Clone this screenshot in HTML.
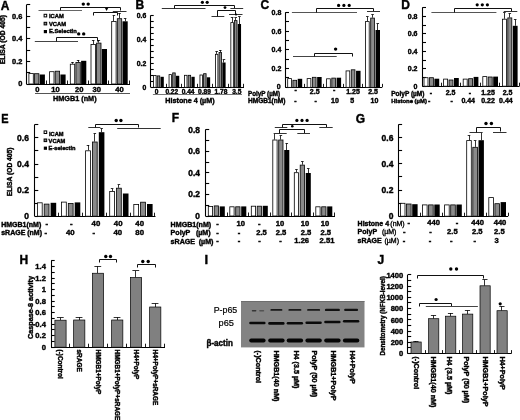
<!DOCTYPE html>
<html><head><meta charset="utf-8"><style>
html,body{margin:0;padding:0;background:#fff;}
svg{display:block;font-family:"Liberation Sans", sans-serif;will-change:transform;}
</style></head><body>
<svg width="520" height="420" viewBox="0 0 520 420">
<rect width="520" height="420" fill="#fff"/>
<text x="0.8" y="9.6" font-size="12" font-weight="bold" text-anchor="start" fill="#000" stroke="#000" stroke-width="0.4">A</text>
<text x="5" y="64.2" font-size="6.6" font-weight="bold" text-anchor="start" fill="#000" stroke="#000" stroke-width="0.4" transform="rotate(-90 5 64.2)" textLength="49.2" lengthAdjust="spacingAndGlyphs">ELISA (OD 405)</text>
<line x1="26.5" y1="4.6" x2="26.5" y2="84" stroke="#000" stroke-width="1.1"/>
<line x1="26.6" y1="84.5" x2="30.2" y2="84.5" stroke="#000" stroke-width="1.1"/>
<line x1="26.6" y1="72.5" x2="30.2" y2="72.5" stroke="#000" stroke-width="1.1"/>
<line x1="26.6" y1="61.5" x2="30.2" y2="61.5" stroke="#000" stroke-width="1.1"/>
<line x1="26.6" y1="50.5" x2="30.2" y2="50.5" stroke="#000" stroke-width="1.1"/>
<line x1="26.6" y1="38.5" x2="30.2" y2="38.5" stroke="#000" stroke-width="1.1"/>
<line x1="26.6" y1="27.5" x2="30.2" y2="27.5" stroke="#000" stroke-width="1.1"/>
<line x1="26.6" y1="16.5" x2="30.2" y2="16.5" stroke="#000" stroke-width="1.1"/>
<line x1="26.6" y1="4.5" x2="30.2" y2="4.5" stroke="#000" stroke-width="1.1"/>
<text x="22.4" y="85.66" font-size="7.4" font-weight="bold" text-anchor="end" fill="#000" stroke="#000" stroke-width="0.4">0</text>
<text x="22.4" y="64.06" font-size="7.4" font-weight="bold" text-anchor="end" fill="#000" stroke="#000" stroke-width="0.4">0.2</text>
<text x="22.4" y="41.46" font-size="7.4" font-weight="bold" text-anchor="end" fill="#000" stroke="#000" stroke-width="0.4">0.4</text>
<text x="22.4" y="18.86" font-size="7.4" font-weight="bold" text-anchor="end" fill="#000" stroke="#000" stroke-width="0.4">0.6</text>
<line x1="26.6" y1="84.5" x2="130" y2="84.5" stroke="#000" stroke-width="1.1"/>
<rect x="28.9" y="73.4" width="4.4" height="10.6" fill="#fff" stroke="#000" stroke-width="0.8"/>
<rect x="34.5" y="73.7" width="4.4" height="10.3" fill="#8a8a8a" stroke="#000" stroke-width="0.8"/>
<rect x="39.7" y="74.5" width="5.2" height="9.5" fill="#000"/>
<rect x="49.6" y="71.7" width="4.4" height="12.3" fill="#fff" stroke="#000" stroke-width="0.8"/>
<rect x="55.2" y="71.2" width="4.4" height="12.8" fill="#8a8a8a" stroke="#000" stroke-width="0.8"/>
<rect x="60.4" y="74.5" width="5.2" height="9.5" fill="#000"/>
<line x1="72.5" y1="62" x2="72.5" y2="63.8" stroke="#000" stroke-width="0.8"/>
<line x1="71.2" y1="62.5" x2="73.8" y2="62.5" stroke="#000" stroke-width="0.8"/>
<rect x="70.3" y="64.2" width="4.4" height="19.8" fill="#fff" stroke="#000" stroke-width="0.8"/>
<line x1="78.5" y1="60" x2="78.5" y2="62" stroke="#000" stroke-width="0.8"/>
<line x1="76.8" y1="60.5" x2="79.4" y2="60.5" stroke="#000" stroke-width="0.8"/>
<rect x="75.9" y="62.4" width="4.4" height="21.6" fill="#8a8a8a" stroke="#000" stroke-width="0.8"/>
<rect x="81.1" y="60.8" width="5.2" height="23.2" fill="#000"/>
<line x1="93.5" y1="40.3" x2="93.5" y2="44" stroke="#000" stroke-width="0.8"/>
<line x1="91.9" y1="40.5" x2="94.5" y2="40.5" stroke="#000" stroke-width="0.8"/>
<rect x="91" y="44.4" width="4.4" height="39.6" fill="#fff" stroke="#000" stroke-width="0.8"/>
<line x1="98.5" y1="40" x2="98.5" y2="42.7" stroke="#000" stroke-width="0.8"/>
<line x1="97.5" y1="40.5" x2="100.1" y2="40.5" stroke="#000" stroke-width="0.8"/>
<rect x="96.6" y="43.1" width="4.4" height="40.9" fill="#8a8a8a" stroke="#000" stroke-width="0.8"/>
<rect x="101.8" y="49" width="5.2" height="35" fill="#000"/>
<line x1="113.5" y1="15.5" x2="113.5" y2="21" stroke="#000" stroke-width="0.8"/>
<line x1="112.6" y1="15.5" x2="115.2" y2="15.5" stroke="#000" stroke-width="0.8"/>
<rect x="111.7" y="21.4" width="4.4" height="62.6" fill="#fff" stroke="#000" stroke-width="0.8"/>
<line x1="119.5" y1="13" x2="119.5" y2="18.3" stroke="#000" stroke-width="0.8"/>
<line x1="118.2" y1="13.5" x2="120.8" y2="13.5" stroke="#000" stroke-width="0.8"/>
<rect x="117.3" y="18.7" width="4.4" height="65.3" fill="#8a8a8a" stroke="#000" stroke-width="0.8"/>
<line x1="125.5" y1="18.6" x2="125.5" y2="21.3" stroke="#000" stroke-width="0.8"/>
<line x1="123.8" y1="18.5" x2="126.4" y2="18.5" stroke="#000" stroke-width="0.8"/>
<rect x="122.5" y="21.3" width="5.2" height="62.7" fill="#000"/>
<line x1="46.5" y1="80.5" x2="46.5" y2="84" stroke="#000" stroke-width="0.9"/>
<line x1="67.5" y1="80.5" x2="67.5" y2="84" stroke="#000" stroke-width="0.9"/>
<line x1="88.5" y1="80.5" x2="88.5" y2="84" stroke="#000" stroke-width="0.9"/>
<line x1="108.5" y1="80.5" x2="108.5" y2="84" stroke="#000" stroke-width="0.9"/>
<line x1="129.5" y1="80.5" x2="129.5" y2="84" stroke="#000" stroke-width="0.9"/>
<text x="37.3" y="91.9" font-size="7.6" font-weight="bold" text-anchor="middle" fill="#000" stroke="#000" stroke-width="0.4">0</text>
<text x="55.5" y="91.9" font-size="7.6" font-weight="bold" text-anchor="middle" fill="#000" stroke="#000" stroke-width="0.4">10</text>
<text x="79.3" y="91.9" font-size="7.6" font-weight="bold" text-anchor="middle" fill="#000" stroke="#000" stroke-width="0.4">20</text>
<text x="96.8" y="91.9" font-size="7.6" font-weight="bold" text-anchor="middle" fill="#000" stroke="#000" stroke-width="0.4">30</text>
<text x="119.6" y="91.9" font-size="7.6" font-weight="bold" text-anchor="middle" fill="#000" stroke="#000" stroke-width="0.4">40</text>
<line x1="35" y1="93.5" x2="130" y2="93.5" stroke="#555" stroke-width="1"/>
<text x="53" y="101.2" font-size="7.6" font-weight="bold" text-anchor="start" fill="#000" stroke="#000" stroke-width="0.4" textLength="43.6" lengthAdjust="spacingAndGlyphs">HMGB1 (nM)</text>
<rect x="44.1" y="14.3" width="2.6" height="2.6" fill="#fff" stroke="#000" stroke-width="1"/>
<text x="49" y="18.2" font-size="5.8" font-weight="bold" text-anchor="start" fill="#000" stroke="#000" stroke-width="0.4">ICAM</text>
<rect x="44.1" y="22.3" width="2.6" height="2.6" fill="#8a8a8a" stroke="#000" stroke-width="1"/>
<text x="49" y="25.6" font-size="5.8" font-weight="bold" text-anchor="start" fill="#000" stroke="#000" stroke-width="0.4">VCAM</text>
<rect x="43.8" y="30" width="3.2" height="3.2" fill="#000"/>
<text x="49" y="32.9" font-size="5.8" font-weight="bold" text-anchor="start" fill="#000" stroke="#000" stroke-width="0.4">E.Selectin</text>
<line x1="38.5" y1="10.5" x2="82" y2="10.5" stroke="#666" stroke-width="1.2"/>
<polyline points="60.5,10.5 60.5,7.5 120.5,7.5 120.5,10.5" fill="none" stroke="#111" stroke-width="1"/>
<line x1="112.8" y1="11.5" x2="126.5" y2="11.5" stroke="#333" stroke-width="1"/>
<circle cx="83.3" cy="4.1" r="1.7" fill="#000"/>
<circle cx="88.2" cy="4.1" r="1.7" fill="#000"/>
<polygon points="104.8,7.8 108.4,7.8 106.6,11" fill="#000"/>
<polyline points="93.5,15.5 93.5,12.5 117.5,12.5 117.5,15.5" fill="none" stroke="#111" stroke-width="1"/>
<circle cx="78.7" cy="33.9" r="1.7" fill="#000"/>
<circle cx="83.7" cy="33.9" r="1.7" fill="#000"/>
<line x1="34.8" y1="41.5" x2="78" y2="41.5" stroke="#444" stroke-width="1.1"/>
<polyline points="56.5,41.5 56.5,37.5 97.5,37.5 97.5,41.5" fill="none" stroke="#111" stroke-width="1"/>
<text x="135.6" y="8.8" font-size="12" font-weight="bold" text-anchor="start" fill="#000" stroke="#000" stroke-width="0.4">B</text>
<line x1="150.5" y1="15.3" x2="150.5" y2="87.3" stroke="#000" stroke-width="1.1"/>
<line x1="150.8" y1="87.5" x2="153.7" y2="87.5" stroke="#000" stroke-width="1.1"/>
<line x1="150.8" y1="81.5" x2="153.7" y2="81.5" stroke="#000" stroke-width="1.1"/>
<line x1="150.8" y1="75.5" x2="153.7" y2="75.5" stroke="#000" stroke-width="1.1"/>
<line x1="150.8" y1="69.5" x2="153.7" y2="69.5" stroke="#000" stroke-width="1.1"/>
<line x1="150.8" y1="63.5" x2="153.7" y2="63.5" stroke="#000" stroke-width="1.1"/>
<line x1="150.8" y1="57.5" x2="153.7" y2="57.5" stroke="#000" stroke-width="1.1"/>
<line x1="150.8" y1="51.5" x2="153.7" y2="51.5" stroke="#000" stroke-width="1.1"/>
<line x1="150.8" y1="45.5" x2="153.7" y2="45.5" stroke="#000" stroke-width="1.1"/>
<line x1="150.8" y1="39.5" x2="153.7" y2="39.5" stroke="#000" stroke-width="1.1"/>
<line x1="150.8" y1="33.5" x2="153.7" y2="33.5" stroke="#000" stroke-width="1.1"/>
<line x1="150.8" y1="27.5" x2="153.7" y2="27.5" stroke="#000" stroke-width="1.1"/>
<line x1="150.8" y1="21.5" x2="153.7" y2="21.5" stroke="#000" stroke-width="1.1"/>
<line x1="150.8" y1="15.5" x2="153.7" y2="15.5" stroke="#000" stroke-width="1.1"/>
<text x="146.2" y="89.75" font-size="6.8" font-weight="bold" text-anchor="end" fill="#000" stroke="#000" stroke-width="0.4">0</text>
<text x="146.2" y="65.85" font-size="6.8" font-weight="bold" text-anchor="end" fill="#000" stroke="#000" stroke-width="0.4">0.2</text>
<text x="146.2" y="41.95" font-size="6.8" font-weight="bold" text-anchor="end" fill="#000" stroke="#000" stroke-width="0.4">0.4</text>
<text x="146.2" y="18.05" font-size="6.8" font-weight="bold" text-anchor="end" fill="#000" stroke="#000" stroke-width="0.4">0.6</text>
<line x1="150.8" y1="87.5" x2="244" y2="87.5" stroke="#000" stroke-width="1.1"/>
<rect x="153.6" y="75.5" width="2.5" height="11.8" fill="#fff" stroke="#000" stroke-width="0.8"/>
<rect x="157.25" y="75.9" width="2.5" height="11.4" fill="#8a8a8a" stroke="#000" stroke-width="0.8"/>
<rect x="160.5" y="76.8" width="3.3" height="10.5" fill="#000"/>
<rect x="169.05" y="74.6" width="2.5" height="12.7" fill="#fff" stroke="#000" stroke-width="0.8"/>
<rect x="172.7" y="72.9" width="2.5" height="14.4" fill="#8a8a8a" stroke="#000" stroke-width="0.8"/>
<rect x="175.95" y="75.8" width="3.3" height="11.5" fill="#000"/>
<rect x="184.5" y="75.3" width="2.5" height="12" fill="#fff" stroke="#000" stroke-width="0.8"/>
<rect x="188.15" y="75.3" width="2.5" height="12" fill="#8a8a8a" stroke="#000" stroke-width="0.8"/>
<rect x="191.4" y="76.8" width="3.3" height="10.5" fill="#000"/>
<rect x="199.95" y="75" width="2.5" height="12.3" fill="#fff" stroke="#000" stroke-width="0.8"/>
<rect x="203.6" y="73.7" width="2.5" height="13.6" fill="#8a8a8a" stroke="#000" stroke-width="0.8"/>
<rect x="206.85" y="77.3" width="3.3" height="10" fill="#000"/>
<line x1="216.5" y1="51.3" x2="216.5" y2="53.9" stroke="#000" stroke-width="0.8"/>
<line x1="215.35" y1="51.5" x2="217.95" y2="51.5" stroke="#000" stroke-width="0.8"/>
<rect x="215.4" y="54.3" width="2.5" height="33" fill="#fff" stroke="#000" stroke-width="0.8"/>
<line x1="220.5" y1="50" x2="220.5" y2="52" stroke="#000" stroke-width="0.8"/>
<line x1="219" y1="50.5" x2="221.6" y2="50.5" stroke="#000" stroke-width="0.8"/>
<rect x="219.05" y="52.4" width="2.5" height="34.9" fill="#8a8a8a" stroke="#000" stroke-width="0.8"/>
<line x1="223.5" y1="59.8" x2="223.5" y2="62.5" stroke="#000" stroke-width="0.8"/>
<line x1="222.65" y1="59.5" x2="225.25" y2="59.5" stroke="#000" stroke-width="0.8"/>
<rect x="222.3" y="62.5" width="3.3" height="24.8" fill="#000"/>
<line x1="232.5" y1="17.5" x2="232.5" y2="22.2" stroke="#000" stroke-width="0.8"/>
<line x1="230.8" y1="17.5" x2="233.4" y2="17.5" stroke="#000" stroke-width="0.8"/>
<rect x="230.85" y="22.6" width="2.5" height="64.7" fill="#fff" stroke="#000" stroke-width="0.8"/>
<line x1="235.5" y1="17.8" x2="235.5" y2="20.2" stroke="#000" stroke-width="0.8"/>
<line x1="234.45" y1="17.5" x2="237.05" y2="17.5" stroke="#000" stroke-width="0.8"/>
<rect x="234.5" y="20.6" width="2.5" height="66.7" fill="#8a8a8a" stroke="#000" stroke-width="0.8"/>
<line x1="239.5" y1="16.8" x2="239.5" y2="24" stroke="#000" stroke-width="0.8"/>
<line x1="238.1" y1="16.5" x2="240.7" y2="16.5" stroke="#000" stroke-width="0.8"/>
<rect x="237.75" y="24" width="3.3" height="63.3" fill="#000"/>
<line x1="166.5" y1="83.8" x2="166.5" y2="87.3" stroke="#000" stroke-width="0.9"/>
<line x1="181.5" y1="83.8" x2="181.5" y2="87.3" stroke="#000" stroke-width="0.9"/>
<line x1="197.5" y1="83.8" x2="197.5" y2="87.3" stroke="#000" stroke-width="0.9"/>
<line x1="212.5" y1="83.8" x2="212.5" y2="87.3" stroke="#000" stroke-width="0.9"/>
<line x1="228.5" y1="83.8" x2="228.5" y2="87.3" stroke="#000" stroke-width="0.9"/>
<line x1="243.5" y1="83.8" x2="243.5" y2="87.3" stroke="#000" stroke-width="0.9"/>
<text x="156.5" y="94" font-size="6.6" font-weight="bold" text-anchor="middle" fill="#000" stroke="#000" stroke-width="0.4">0</text>
<text x="171.8" y="94" font-size="6.6" font-weight="bold" text-anchor="middle" fill="#000" stroke="#000" stroke-width="0.4">0.22</text>
<text x="188.1" y="94" font-size="6.6" font-weight="bold" text-anchor="middle" fill="#000" stroke="#000" stroke-width="0.4">0.44</text>
<text x="204.4" y="94" font-size="6.6" font-weight="bold" text-anchor="middle" fill="#000" stroke="#000" stroke-width="0.4">0.89</text>
<text x="220.9" y="94" font-size="6.6" font-weight="bold" text-anchor="middle" fill="#000" stroke="#000" stroke-width="0.4">1.78</text>
<text x="236.8" y="94" font-size="6.6" font-weight="bold" text-anchor="middle" fill="#000" stroke="#000" stroke-width="0.4">3.5</text>
<line x1="152.9" y1="94.5" x2="242" y2="94.5" stroke="#777" stroke-width="1"/>
<text x="165.3" y="102.8" font-size="7.2" font-weight="bold" text-anchor="start" fill="#000" stroke="#000" stroke-width="0.4">Histone 4 (µM)</text>
<line x1="161.8" y1="8.5" x2="205.5" y2="8.5" stroke="#333" stroke-width="1.1"/>
<polyline points="174.5,8.5 174.5,5.5 234.5,5.5 234.5,8.5" fill="none" stroke="#111" stroke-width="1"/>
<line x1="230.4" y1="8.5" x2="243.2" y2="8.5" stroke="#333" stroke-width="1"/>
<circle cx="202.4" cy="2.3" r="1.6" fill="#000"/>
<circle cx="207.2" cy="2.3" r="1.6" fill="#000"/>
<circle cx="225" cy="7.6" r="1.4" fill="#000"/>
<line x1="211.5" y1="16.5" x2="224.3" y2="16.5" stroke="#333" stroke-width="1"/>
<polyline points="217.5,16.5 217.5,10.5 235.5,10.5 235.5,14.5" fill="none" stroke="#111" stroke-width="1"/>
<line x1="229" y1="14.5" x2="242.5" y2="14.5" stroke="#333" stroke-width="1"/>
<circle cx="236" cy="14.5" r="1.1" fill="#000"/>
<text x="260.6" y="9.2" font-size="12" font-weight="bold" text-anchor="start" fill="#000" stroke="#000" stroke-width="0.4">C</text>
<line x1="285.5" y1="12.3" x2="285.5" y2="87.35" stroke="#000" stroke-width="1.1"/>
<line x1="285.4" y1="87.5" x2="289" y2="87.5" stroke="#000" stroke-width="1.1"/>
<line x1="285.4" y1="77.5" x2="289" y2="77.5" stroke="#000" stroke-width="1.1"/>
<line x1="285.4" y1="68.5" x2="289" y2="68.5" stroke="#000" stroke-width="1.1"/>
<line x1="285.4" y1="59.5" x2="289" y2="59.5" stroke="#000" stroke-width="1.1"/>
<line x1="285.4" y1="49.5" x2="289" y2="49.5" stroke="#000" stroke-width="1.1"/>
<line x1="285.4" y1="40.5" x2="289" y2="40.5" stroke="#000" stroke-width="1.1"/>
<line x1="285.4" y1="31.5" x2="289" y2="31.5" stroke="#000" stroke-width="1.1"/>
<line x1="285.4" y1="21.5" x2="289" y2="21.5" stroke="#000" stroke-width="1.1"/>
<line x1="285.4" y1="12.5" x2="289" y2="12.5" stroke="#000" stroke-width="1.1"/>
<text x="280.7" y="89.07" font-size="7" font-weight="bold" text-anchor="end" fill="#000" stroke="#000" stroke-width="0.4">0</text>
<text x="281.3" y="71.15" font-size="7" font-weight="bold" text-anchor="end" fill="#000" stroke="#000" stroke-width="0.4">0.2</text>
<text x="281.3" y="52.43" font-size="7" font-weight="bold" text-anchor="end" fill="#000" stroke="#000" stroke-width="0.4">0.4</text>
<text x="281.3" y="33.71" font-size="7" font-weight="bold" text-anchor="end" fill="#000" stroke="#000" stroke-width="0.4">0.6</text>
<text x="281.3" y="14.99" font-size="7" font-weight="bold" text-anchor="end" fill="#000" stroke="#000" stroke-width="0.4">0.8</text>
<line x1="285.4" y1="87.5" x2="382" y2="87.5" stroke="#000" stroke-width="1.1"/>
<rect x="287.7" y="78.6" width="3.7" height="8.75" fill="#fff" stroke="#000" stroke-width="0.8"/>
<rect x="292.9" y="80.3" width="3.7" height="7.05" fill="#8a8a8a" stroke="#000" stroke-width="0.8"/>
<rect x="297.7" y="78.8" width="4.5" height="8.55" fill="#000"/>
<rect x="307.15" y="78.6" width="3.7" height="8.75" fill="#fff" stroke="#000" stroke-width="0.8"/>
<rect x="312.35" y="77.3" width="3.7" height="10.05" fill="#8a8a8a" stroke="#000" stroke-width="0.8"/>
<rect x="317.15" y="77" width="4.5" height="10.35" fill="#000"/>
<rect x="326.6" y="78.8" width="3.7" height="8.55" fill="#fff" stroke="#000" stroke-width="0.8"/>
<rect x="331.8" y="78.1" width="3.7" height="9.25" fill="#8a8a8a" stroke="#000" stroke-width="0.8"/>
<rect x="336.6" y="77.7" width="4.5" height="9.65" fill="#000"/>
<rect x="346.05" y="70.9" width="3.7" height="16.45" fill="#fff" stroke="#000" stroke-width="0.8"/>
<rect x="351.25" y="69.8" width="3.7" height="17.55" fill="#8a8a8a" stroke="#000" stroke-width="0.8"/>
<rect x="356.05" y="70.8" width="4.5" height="16.55" fill="#000"/>
<line x1="367.5" y1="16.6" x2="367.5" y2="21.2" stroke="#000" stroke-width="0.8"/>
<line x1="366.05" y1="16.5" x2="368.65" y2="16.5" stroke="#000" stroke-width="0.8"/>
<rect x="365.5" y="21.6" width="3.7" height="65.75" fill="#fff" stroke="#000" stroke-width="0.8"/>
<line x1="372.5" y1="14.6" x2="372.5" y2="17.7" stroke="#000" stroke-width="0.8"/>
<line x1="371.25" y1="14.5" x2="373.85" y2="14.5" stroke="#000" stroke-width="0.8"/>
<rect x="370.7" y="18.1" width="3.7" height="69.25" fill="#8a8a8a" stroke="#000" stroke-width="0.8"/>
<line x1="377.5" y1="23.8" x2="377.5" y2="30" stroke="#000" stroke-width="0.8"/>
<line x1="376.45" y1="23.5" x2="379.05" y2="23.5" stroke="#000" stroke-width="0.8"/>
<rect x="375.5" y="30" width="4.5" height="57.35" fill="#000"/>
<line x1="304.5" y1="83.85" x2="304.5" y2="87.35" stroke="#000" stroke-width="0.9"/>
<line x1="323.5" y1="83.85" x2="323.5" y2="87.35" stroke="#000" stroke-width="0.9"/>
<line x1="343.5" y1="83.85" x2="343.5" y2="87.35" stroke="#000" stroke-width="0.9"/>
<line x1="362.5" y1="83.85" x2="362.5" y2="87.35" stroke="#000" stroke-width="0.9"/>
<line x1="382.5" y1="83.85" x2="382.5" y2="87.35" stroke="#000" stroke-width="0.9"/>
<text x="295.6" y="92.2" font-size="7" font-weight="bold" text-anchor="middle" fill="#000" stroke="#000" stroke-width="0.4">-</text>
<text x="314.7" y="94.4" font-size="7" font-weight="bold" text-anchor="middle" fill="#000" stroke="#000" stroke-width="0.4">2.5</text>
<text x="334.2" y="92.2" font-size="7" font-weight="bold" text-anchor="middle" fill="#000" stroke="#000" stroke-width="0.4">-</text>
<text x="353" y="94.4" font-size="7" font-weight="bold" text-anchor="middle" fill="#000" stroke="#000" stroke-width="0.4">1.25</text>
<text x="373.1" y="94.4" font-size="7" font-weight="bold" text-anchor="middle" fill="#000" stroke="#000" stroke-width="0.4">2.5</text>
<text x="295.3" y="102.6" font-size="7" font-weight="bold" text-anchor="middle" fill="#000" stroke="#000" stroke-width="0.4">-</text>
<text x="315.6" y="102.6" font-size="7" font-weight="bold" text-anchor="middle" fill="#000" stroke="#000" stroke-width="0.4">-</text>
<text x="335" y="102.6" font-size="7" font-weight="bold" text-anchor="middle" fill="#000" stroke="#000" stroke-width="0.4">10</text>
<text x="352.3" y="102.6" font-size="7" font-weight="bold" text-anchor="middle" fill="#000" stroke="#000" stroke-width="0.4">5</text>
<text x="374.4" y="102.6" font-size="7" font-weight="bold" text-anchor="middle" fill="#000" stroke="#000" stroke-width="0.4">10</text>
<text x="280.2" y="95.6" font-size="6.6" font-weight="bold" text-anchor="end" fill="#000" stroke="#000" stroke-width="0.4" textLength="32.2" lengthAdjust="spacingAndGlyphs">PolyP (µM)</text>
<text x="285.4" y="102.7" font-size="6.6" font-weight="bold" text-anchor="end" fill="#000" stroke="#000" stroke-width="0.4" textLength="37.4" lengthAdjust="spacingAndGlyphs">HMGB1(nM)</text>
<circle cx="338.6" cy="5.4" r="1.6" fill="#000"/>
<circle cx="343.9" cy="5.4" r="1.6" fill="#000"/>
<circle cx="349.2" cy="5.4" r="1.6" fill="#000"/>
<line x1="291.9" y1="12.5" x2="357" y2="12.5" stroke="#555" stroke-width="1.1"/>
<polyline points="316.5,12.5 316.5,8.5 373.5,8.5 373.5,11.5" fill="none" stroke="#111" stroke-width="1"/>
<line x1="367" y1="11.5" x2="380" y2="11.5" stroke="#333" stroke-width="1"/>
<circle cx="335.6" cy="49.1" r="1.7" fill="#000"/>
<line x1="293" y1="56.5" x2="336.7" y2="56.5" stroke="#444" stroke-width="1.1"/>
<polyline points="314.5,56.5 314.5,53.5 352.5,53.5 352.5,56.5" fill="none" stroke="#111" stroke-width="1"/>
<text x="401.3" y="8.9" font-size="12" font-weight="bold" text-anchor="start" fill="#000" stroke="#000" stroke-width="0.4">D</text>
<line x1="422.5" y1="7.4" x2="422.5" y2="86.2" stroke="#000" stroke-width="1.1"/>
<line x1="422.4" y1="86.5" x2="426" y2="86.5" stroke="#000" stroke-width="1.1"/>
<line x1="422.4" y1="77.5" x2="426" y2="77.5" stroke="#000" stroke-width="1.1"/>
<line x1="422.4" y1="68.5" x2="426" y2="68.5" stroke="#000" stroke-width="1.1"/>
<line x1="422.4" y1="60.5" x2="426" y2="60.5" stroke="#000" stroke-width="1.1"/>
<line x1="422.4" y1="51.5" x2="426" y2="51.5" stroke="#000" stroke-width="1.1"/>
<line x1="422.4" y1="42.5" x2="426" y2="42.5" stroke="#000" stroke-width="1.1"/>
<line x1="422.4" y1="33.5" x2="426" y2="33.5" stroke="#000" stroke-width="1.1"/>
<line x1="422.4" y1="25.5" x2="426" y2="25.5" stroke="#000" stroke-width="1.1"/>
<line x1="422.4" y1="16.5" x2="426" y2="16.5" stroke="#000" stroke-width="1.1"/>
<line x1="422.4" y1="7.5" x2="426" y2="7.5" stroke="#000" stroke-width="1.1"/>
<text x="417.5" y="88.72" font-size="7" font-weight="bold" text-anchor="end" fill="#000" stroke="#000" stroke-width="0.4">0</text>
<text x="417.5" y="71.27" font-size="7" font-weight="bold" text-anchor="end" fill="#000" stroke="#000" stroke-width="0.4">0.2</text>
<text x="417.5" y="53.82" font-size="7" font-weight="bold" text-anchor="end" fill="#000" stroke="#000" stroke-width="0.4">0.4</text>
<text x="417.5" y="36.37" font-size="7" font-weight="bold" text-anchor="end" fill="#000" stroke="#000" stroke-width="0.4">0.6</text>
<text x="417.5" y="18.92" font-size="7" font-weight="bold" text-anchor="end" fill="#000" stroke="#000" stroke-width="0.4">0.8</text>
<line x1="422.4" y1="86.5" x2="519.5" y2="86.5" stroke="#000" stroke-width="1.1"/>
<rect x="424" y="77.7" width="4" height="8.5" fill="#fff" stroke="#000" stroke-width="0.8"/>
<rect x="429.4" y="77.7" width="4" height="8.5" fill="#8a8a8a" stroke="#000" stroke-width="0.8"/>
<rect x="434.4" y="78.7" width="4.8" height="7.5" fill="#000"/>
<rect x="443.6" y="79.1" width="4" height="7.1" fill="#fff" stroke="#000" stroke-width="0.8"/>
<rect x="449" y="80" width="4" height="6.2" fill="#8a8a8a" stroke="#000" stroke-width="0.8"/>
<rect x="454" y="78" width="4.8" height="8.2" fill="#000"/>
<rect x="463.2" y="79.1" width="4" height="7.1" fill="#fff" stroke="#000" stroke-width="0.8"/>
<rect x="468.6" y="78.7" width="4" height="7.5" fill="#8a8a8a" stroke="#000" stroke-width="0.8"/>
<rect x="473.6" y="76.9" width="4.8" height="9.3" fill="#000"/>
<rect x="482.8" y="76.6" width="4" height="9.6" fill="#fff" stroke="#000" stroke-width="0.8"/>
<rect x="488.2" y="77" width="4" height="9.2" fill="#8a8a8a" stroke="#000" stroke-width="0.8"/>
<rect x="493.2" y="76.6" width="4.8" height="9.6" fill="#000"/>
<line x1="504.5" y1="12.8" x2="504.5" y2="18.8" stroke="#000" stroke-width="0.8"/>
<line x1="503.1" y1="12.5" x2="505.7" y2="12.5" stroke="#000" stroke-width="0.8"/>
<rect x="502.4" y="19.2" width="4" height="67" fill="#fff" stroke="#000" stroke-width="0.8"/>
<line x1="509.5" y1="13.5" x2="509.5" y2="17.5" stroke="#000" stroke-width="0.8"/>
<line x1="508.5" y1="13.5" x2="511.1" y2="13.5" stroke="#000" stroke-width="0.8"/>
<rect x="507.8" y="17.9" width="4" height="68.3" fill="#8a8a8a" stroke="#000" stroke-width="0.8"/>
<line x1="515.5" y1="19.5" x2="515.5" y2="25.8" stroke="#000" stroke-width="0.8"/>
<line x1="513.9" y1="19.5" x2="516.5" y2="19.5" stroke="#000" stroke-width="0.8"/>
<rect x="512.8" y="25.8" width="4.8" height="60.4" fill="#000"/>
<line x1="441.5" y1="82.7" x2="441.5" y2="86.2" stroke="#000" stroke-width="0.9"/>
<line x1="460.5" y1="82.7" x2="460.5" y2="86.2" stroke="#000" stroke-width="0.9"/>
<line x1="480.5" y1="82.7" x2="480.5" y2="86.2" stroke="#000" stroke-width="0.9"/>
<line x1="499.5" y1="82.7" x2="499.5" y2="86.2" stroke="#000" stroke-width="0.9"/>
<line x1="519.5" y1="82.7" x2="519.5" y2="86.2" stroke="#000" stroke-width="0.9"/>
<text x="431" y="95" font-size="7" font-weight="bold" text-anchor="middle" fill="#000" stroke="#000" stroke-width="0.4">-</text>
<text x="450.6" y="95" font-size="7" font-weight="bold" text-anchor="middle" fill="#000" stroke="#000" stroke-width="0.4">2.5</text>
<text x="469.8" y="95" font-size="7" font-weight="bold" text-anchor="middle" fill="#000" stroke="#000" stroke-width="0.4">-</text>
<text x="488" y="95" font-size="7" font-weight="bold" text-anchor="middle" fill="#000" stroke="#000" stroke-width="0.4">1.25</text>
<text x="507.5" y="95" font-size="7" font-weight="bold" text-anchor="middle" fill="#000" stroke="#000" stroke-width="0.4">2.5</text>
<text x="429.2" y="103.2" font-size="7" font-weight="bold" text-anchor="middle" fill="#000" stroke="#000" stroke-width="0.4">-</text>
<text x="451.6" y="103.2" font-size="7" font-weight="bold" text-anchor="middle" fill="#000" stroke="#000" stroke-width="0.4">-</text>
<text x="468.2" y="103.2" font-size="7" font-weight="bold" text-anchor="middle" fill="#000" stroke="#000" stroke-width="0.4">0.44</text>
<text x="488" y="103.2" font-size="7" font-weight="bold" text-anchor="middle" fill="#000" stroke="#000" stroke-width="0.4">0.22</text>
<text x="505.9" y="103.2" font-size="7" font-weight="bold" text-anchor="middle" fill="#000" stroke="#000" stroke-width="0.4">0.44</text>
<text x="391.2" y="95.6" font-size="6.5" font-weight="bold" text-anchor="start" fill="#000" stroke="#000" stroke-width="0.4">PolyP (µM)</text>
<text x="391.2" y="103.3" font-size="5.95" font-weight="bold" text-anchor="start" fill="#000" stroke="#000" stroke-width="0.4">Histone (µM)</text>
<circle cx="477.2" cy="4.8" r="1.6" fill="#000"/>
<circle cx="482.3" cy="4.8" r="1.6" fill="#000"/>
<circle cx="487.4" cy="4.8" r="1.6" fill="#000"/>
<line x1="431.4" y1="12.5" x2="496.4" y2="12.5" stroke="#555" stroke-width="1.1"/>
<polyline points="454.5,12.5 454.5,8.5 511.5,8.5 511.5,11.5" fill="none" stroke="#111" stroke-width="1"/>
<line x1="503.8" y1="11.5" x2="517.3" y2="11.5" stroke="#333" stroke-width="1"/>
<text x="1.2" y="122.6" font-size="12" font-weight="bold" text-anchor="start" fill="#000" stroke="#000" stroke-width="0.4" textLength="7.3" lengthAdjust="spacingAndGlyphs">E</text>
<text x="12.2" y="196.3" font-size="6.7" font-weight="bold" text-anchor="start" fill="#000" stroke="#000" stroke-width="0.4" transform="rotate(-90 12.2 196.3)">ELISA (OD 405)</text>
<line x1="34.5" y1="124.4" x2="34.5" y2="216.2" stroke="#000" stroke-width="1.1"/>
<line x1="34.7" y1="216.5" x2="38.3" y2="216.5" stroke="#000" stroke-width="1.1"/>
<line x1="34.7" y1="203.5" x2="38.3" y2="203.5" stroke="#000" stroke-width="1.1"/>
<line x1="34.7" y1="190.5" x2="38.3" y2="190.5" stroke="#000" stroke-width="1.1"/>
<line x1="34.7" y1="177.5" x2="38.3" y2="177.5" stroke="#000" stroke-width="1.1"/>
<line x1="34.7" y1="164.5" x2="38.3" y2="164.5" stroke="#000" stroke-width="1.1"/>
<line x1="34.7" y1="150.5" x2="38.3" y2="150.5" stroke="#000" stroke-width="1.1"/>
<line x1="34.7" y1="137.5" x2="38.3" y2="137.5" stroke="#000" stroke-width="1.1"/>
<line x1="34.7" y1="124.5" x2="38.3" y2="124.5" stroke="#000" stroke-width="1.1"/>
<text x="28.9" y="219.26" font-size="8.5" font-weight="bold" text-anchor="end" fill="#000" stroke="#000" stroke-width="0.4">0</text>
<text x="28.9" y="193.16" font-size="8.5" font-weight="bold" text-anchor="end" fill="#000" stroke="#000" stroke-width="0.4">0.2</text>
<text x="28.9" y="167.06" font-size="8.5" font-weight="bold" text-anchor="end" fill="#000" stroke="#000" stroke-width="0.4">0.4</text>
<text x="28.9" y="140.96" font-size="8.5" font-weight="bold" text-anchor="end" fill="#000" stroke="#000" stroke-width="0.4">0.6</text>
<line x1="34.7" y1="216.5" x2="155.5" y2="216.5" stroke="#000" stroke-width="1.1"/>
<rect x="37.4" y="202.8" width="4.8" height="13.4" fill="#fff" stroke="#000" stroke-width="0.8"/>
<rect x="44.2" y="204.1" width="4.8" height="12.1" fill="#8a8a8a" stroke="#000" stroke-width="0.8"/>
<rect x="50.6" y="202.8" width="5.6" height="13.4" fill="#000"/>
<rect x="61.5" y="202.1" width="4.8" height="14.1" fill="#fff" stroke="#000" stroke-width="0.8"/>
<rect x="68.3" y="203.4" width="4.8" height="12.8" fill="#8a8a8a" stroke="#000" stroke-width="0.8"/>
<rect x="74.7" y="202.4" width="5.6" height="13.8" fill="#000"/>
<line x1="88.5" y1="145" x2="88.5" y2="150.4" stroke="#000" stroke-width="0.8"/>
<line x1="86.7" y1="145.5" x2="89.3" y2="145.5" stroke="#000" stroke-width="0.8"/>
<rect x="85.6" y="150.8" width="4.8" height="65.4" fill="#fff" stroke="#000" stroke-width="0.8"/>
<line x1="94.5" y1="133.6" x2="94.5" y2="141.6" stroke="#000" stroke-width="0.8"/>
<line x1="93.5" y1="133.5" x2="96.1" y2="133.5" stroke="#000" stroke-width="0.8"/>
<rect x="92.4" y="142" width="4.8" height="74.2" fill="#8a8a8a" stroke="#000" stroke-width="0.8"/>
<line x1="101.5" y1="128.5" x2="101.5" y2="132.2" stroke="#000" stroke-width="0.8"/>
<line x1="100.3" y1="128.5" x2="102.9" y2="128.5" stroke="#000" stroke-width="0.8"/>
<rect x="98.8" y="132.2" width="5.6" height="84" fill="#000"/>
<line x1="112.5" y1="188.9" x2="112.5" y2="191.1" stroke="#000" stroke-width="0.8"/>
<line x1="110.8" y1="188.5" x2="113.4" y2="188.5" stroke="#000" stroke-width="0.8"/>
<rect x="109.7" y="191.5" width="4.8" height="24.7" fill="#fff" stroke="#000" stroke-width="0.8"/>
<line x1="118.5" y1="184.9" x2="118.5" y2="187.8" stroke="#000" stroke-width="0.8"/>
<line x1="117.6" y1="184.5" x2="120.2" y2="184.5" stroke="#000" stroke-width="0.8"/>
<rect x="116.5" y="188.2" width="4.8" height="28" fill="#8a8a8a" stroke="#000" stroke-width="0.8"/>
<rect x="122.9" y="193.5" width="5.6" height="22.7" fill="#000"/>
<rect x="133.8" y="204.4" width="4.8" height="11.8" fill="#fff" stroke="#000" stroke-width="0.8"/>
<rect x="140.6" y="202.2" width="4.8" height="14" fill="#8a8a8a" stroke="#000" stroke-width="0.8"/>
<rect x="147" y="204" width="5.6" height="12.2" fill="#000"/>
<line x1="58.5" y1="212.7" x2="58.5" y2="216.2" stroke="#000" stroke-width="0.9"/>
<line x1="82.5" y1="212.7" x2="82.5" y2="216.2" stroke="#000" stroke-width="0.9"/>
<line x1="106.5" y1="212.7" x2="106.5" y2="216.2" stroke="#000" stroke-width="0.9"/>
<line x1="130.5" y1="212.7" x2="130.5" y2="216.2" stroke="#000" stroke-width="0.9"/>
<line x1="154.5" y1="212.7" x2="154.5" y2="216.2" stroke="#000" stroke-width="0.9"/>
<text x="46.8" y="226.4" font-size="7.8" font-weight="bold" text-anchor="middle" fill="#000" stroke="#000" stroke-width="0.4">-</text>
<text x="71.2" y="226.4" font-size="7.8" font-weight="bold" text-anchor="middle" fill="#000" stroke="#000" stroke-width="0.4">-</text>
<text x="95.9" y="226.4" font-size="7.8" font-weight="bold" text-anchor="middle" fill="#000" stroke="#000" stroke-width="0.4">40</text>
<text x="118.2" y="226.4" font-size="7.8" font-weight="bold" text-anchor="middle" fill="#000" stroke="#000" stroke-width="0.4">40</text>
<text x="139.7" y="226.4" font-size="7.8" font-weight="bold" text-anchor="middle" fill="#000" stroke="#000" stroke-width="0.4">40</text>
<text x="45.7" y="234.7" font-size="7.8" font-weight="bold" text-anchor="middle" fill="#000" stroke="#000" stroke-width="0.4">-</text>
<text x="70.3" y="234.7" font-size="7.8" font-weight="bold" text-anchor="middle" fill="#000" stroke="#000" stroke-width="0.4">40</text>
<text x="93.9" y="234.7" font-size="7.8" font-weight="bold" text-anchor="middle" fill="#000" stroke="#000" stroke-width="0.4">-</text>
<text x="117.8" y="234.7" font-size="7.8" font-weight="bold" text-anchor="middle" fill="#000" stroke="#000" stroke-width="0.4">40</text>
<text x="139.7" y="234.7" font-size="7.8" font-weight="bold" text-anchor="middle" fill="#000" stroke="#000" stroke-width="0.4">80</text>
<text x="1.2" y="226.6" font-size="7" font-weight="bold" text-anchor="start" fill="#000" stroke="#000" stroke-width="0.4">HMGB1(nM)</text>
<text x="1.2" y="234.9" font-size="7" font-weight="bold" text-anchor="start" fill="#000" stroke="#000" stroke-width="0.4">sRAGE (nM)</text>
<rect x="44.1" y="130.9" width="2.6" height="2.6" fill="#fff" stroke="#000" stroke-width="1"/>
<text x="49" y="135.8" font-size="5.7" font-weight="bold" text-anchor="start" fill="#000" stroke="#000" stroke-width="0.4">ICAM</text>
<rect x="44.1" y="139" width="2.6" height="2.6" fill="#8a8a8a" stroke="#000" stroke-width="1"/>
<text x="48.6" y="142.5" font-size="5.7" font-weight="bold" text-anchor="start" fill="#000" stroke="#000" stroke-width="0.4">VCAM</text>
<rect x="43.8" y="146.6" width="3.2" height="3.2" fill="#000"/>
<text x="48.6" y="149.9" font-size="5.7" font-weight="bold" text-anchor="start" fill="#000" stroke="#000" stroke-width="0.4">E-selectin</text>
<circle cx="116.2" cy="120.5" r="1.7" fill="#000"/>
<circle cx="120.9" cy="120.5" r="1.7" fill="#000"/>
<line x1="88.3" y1="127.5" x2="100.4" y2="127.5" stroke="#333" stroke-width="1"/>
<polyline points="95.5,127.5 95.5,124.5 138.5,124.5 138.5,127.5" fill="none" stroke="#111" stroke-width="1"/>
<line x1="117.2" y1="128.5" x2="160.7" y2="128.5" stroke="#333" stroke-width="1"/>
<text x="171.8" y="122.2" font-size="12" font-weight="bold" text-anchor="start" fill="#000" stroke="#000" stroke-width="0.4">F</text>
<line x1="205.5" y1="129.4" x2="205.5" y2="216" stroke="#000" stroke-width="1.1"/>
<line x1="205.6" y1="216.5" x2="209.2" y2="216.5" stroke="#000" stroke-width="1.1"/>
<line x1="205.6" y1="205.5" x2="209.2" y2="205.5" stroke="#000" stroke-width="1.1"/>
<line x1="205.6" y1="194.5" x2="209.2" y2="194.5" stroke="#000" stroke-width="1.1"/>
<line x1="205.6" y1="183.5" x2="209.2" y2="183.5" stroke="#000" stroke-width="1.1"/>
<line x1="205.6" y1="172.5" x2="209.2" y2="172.5" stroke="#000" stroke-width="1.1"/>
<line x1="205.6" y1="162.5" x2="209.2" y2="162.5" stroke="#000" stroke-width="1.1"/>
<line x1="205.6" y1="151.5" x2="209.2" y2="151.5" stroke="#000" stroke-width="1.1"/>
<line x1="205.6" y1="140.5" x2="209.2" y2="140.5" stroke="#000" stroke-width="1.1"/>
<line x1="205.6" y1="129.5" x2="209.2" y2="129.5" stroke="#000" stroke-width="1.1"/>
<text x="200" y="219.02" font-size="8.4" font-weight="bold" text-anchor="end" fill="#000" stroke="#000" stroke-width="0.4">0</text>
<text x="200" y="197.46" font-size="8.4" font-weight="bold" text-anchor="end" fill="#000" stroke="#000" stroke-width="0.4">0.2</text>
<text x="200" y="175.9" font-size="8.4" font-weight="bold" text-anchor="end" fill="#000" stroke="#000" stroke-width="0.4">0.4</text>
<text x="200" y="154.34" font-size="8.4" font-weight="bold" text-anchor="end" fill="#000" stroke="#000" stroke-width="0.4">0.6</text>
<text x="200" y="132.78" font-size="8.4" font-weight="bold" text-anchor="end" fill="#000" stroke="#000" stroke-width="0.4">0.8</text>
<line x1="205.6" y1="216.5" x2="335" y2="216.5" stroke="#000" stroke-width="1.1"/>
<rect x="208.3" y="206.4" width="4.3" height="9.6" fill="#fff" stroke="#000" stroke-width="0.8"/>
<rect x="214.2" y="205.9" width="4.3" height="10.1" fill="#8a8a8a" stroke="#000" stroke-width="0.8"/>
<rect x="219.7" y="206.4" width="5.1" height="9.6" fill="#000"/>
<rect x="229.8" y="206.8" width="4.3" height="9.2" fill="#fff" stroke="#000" stroke-width="0.8"/>
<rect x="235.7" y="206.8" width="4.3" height="9.2" fill="#8a8a8a" stroke="#000" stroke-width="0.8"/>
<rect x="241.2" y="206.4" width="5.1" height="9.6" fill="#000"/>
<rect x="251.3" y="206.2" width="4.3" height="9.8" fill="#fff" stroke="#000" stroke-width="0.8"/>
<rect x="257.2" y="206.2" width="4.3" height="9.8" fill="#8a8a8a" stroke="#000" stroke-width="0.8"/>
<rect x="262.7" y="205.8" width="5.1" height="10.2" fill="#000"/>
<line x1="274.5" y1="133.6" x2="274.5" y2="139.6" stroke="#000" stroke-width="0.8"/>
<line x1="273.65" y1="133.5" x2="276.25" y2="133.5" stroke="#000" stroke-width="0.8"/>
<rect x="272.8" y="140" width="4.3" height="76" fill="#fff" stroke="#000" stroke-width="0.8"/>
<line x1="280.5" y1="135.6" x2="280.5" y2="139.6" stroke="#000" stroke-width="0.8"/>
<line x1="279.55" y1="135.5" x2="282.15" y2="135.5" stroke="#000" stroke-width="0.8"/>
<rect x="278.7" y="140" width="4.3" height="76" fill="#8a8a8a" stroke="#000" stroke-width="0.8"/>
<line x1="286.5" y1="143.3" x2="286.5" y2="150" stroke="#000" stroke-width="0.8"/>
<line x1="285.45" y1="143.5" x2="288.05" y2="143.5" stroke="#000" stroke-width="0.8"/>
<rect x="284.2" y="150" width="5.1" height="66" fill="#000"/>
<line x1="296.5" y1="169.6" x2="296.5" y2="172.3" stroke="#000" stroke-width="0.8"/>
<line x1="295.15" y1="169.5" x2="297.75" y2="169.5" stroke="#000" stroke-width="0.8"/>
<rect x="294.3" y="172.7" width="4.3" height="43.3" fill="#fff" stroke="#000" stroke-width="0.8"/>
<line x1="302.5" y1="161.6" x2="302.5" y2="164.7" stroke="#000" stroke-width="0.8"/>
<line x1="301.05" y1="161.5" x2="303.65" y2="161.5" stroke="#000" stroke-width="0.8"/>
<rect x="300.2" y="165.1" width="4.3" height="50.9" fill="#8a8a8a" stroke="#000" stroke-width="0.8"/>
<line x1="308.5" y1="168.7" x2="308.5" y2="173" stroke="#000" stroke-width="0.8"/>
<line x1="306.95" y1="168.5" x2="309.55" y2="168.5" stroke="#000" stroke-width="0.8"/>
<rect x="305.7" y="173" width="5.1" height="43" fill="#000"/>
<rect x="315.8" y="206.8" width="4.3" height="9.2" fill="#fff" stroke="#000" stroke-width="0.8"/>
<rect x="321.7" y="206.8" width="4.3" height="9.2" fill="#8a8a8a" stroke="#000" stroke-width="0.8"/>
<rect x="327.2" y="206.4" width="5.1" height="9.6" fill="#000"/>
<line x1="227.5" y1="212.5" x2="227.5" y2="216" stroke="#000" stroke-width="0.9"/>
<line x1="248.5" y1="212.5" x2="248.5" y2="216" stroke="#000" stroke-width="0.9"/>
<line x1="270.5" y1="212.5" x2="270.5" y2="216" stroke="#000" stroke-width="0.9"/>
<line x1="291.5" y1="212.5" x2="291.5" y2="216" stroke="#000" stroke-width="0.9"/>
<line x1="313.5" y1="212.5" x2="313.5" y2="216" stroke="#000" stroke-width="0.9"/>
<line x1="334.5" y1="212.5" x2="334.5" y2="216" stroke="#000" stroke-width="0.9"/>
<text x="217.5" y="226.4" font-size="7.6" font-weight="bold" text-anchor="middle" fill="#000" stroke="#000" stroke-width="0.4">-</text>
<text x="240.7" y="226.4" font-size="7.6" font-weight="bold" text-anchor="middle" fill="#000" stroke="#000" stroke-width="0.4">10</text>
<text x="259.2" y="226.4" font-size="7.6" font-weight="bold" text-anchor="middle" fill="#000" stroke="#000" stroke-width="0.4">-</text>
<text x="280" y="226.4" font-size="7.6" font-weight="bold" text-anchor="middle" fill="#000" stroke="#000" stroke-width="0.4">10</text>
<text x="305" y="226.4" font-size="7.6" font-weight="bold" text-anchor="middle" fill="#000" stroke="#000" stroke-width="0.4">10</text>
<text x="325" y="226.4" font-size="7.6" font-weight="bold" text-anchor="middle" fill="#000" stroke="#000" stroke-width="0.4">10</text>
<text x="217.5" y="235" font-size="7.6" font-weight="bold" text-anchor="middle" fill="#000" stroke="#000" stroke-width="0.4">-</text>
<text x="239" y="235" font-size="7.6" font-weight="bold" text-anchor="middle" fill="#000" stroke="#000" stroke-width="0.4">-</text>
<text x="261.5" y="235" font-size="7.6" font-weight="bold" text-anchor="middle" fill="#000" stroke="#000" stroke-width="0.4">2.5</text>
<text x="281" y="235" font-size="7.6" font-weight="bold" text-anchor="middle" fill="#000" stroke="#000" stroke-width="0.4">2.5</text>
<text x="306" y="235" font-size="7.6" font-weight="bold" text-anchor="middle" fill="#000" stroke="#000" stroke-width="0.4">2.5</text>
<text x="325.7" y="235" font-size="7.6" font-weight="bold" text-anchor="middle" fill="#000" stroke="#000" stroke-width="0.4">2.5</text>
<text x="217.5" y="243.4" font-size="7.6" font-weight="bold" text-anchor="middle" fill="#000" stroke="#000" stroke-width="0.4">-</text>
<text x="239" y="243.4" font-size="7.6" font-weight="bold" text-anchor="middle" fill="#000" stroke="#000" stroke-width="0.4">-</text>
<text x="259.5" y="243.4" font-size="7.6" font-weight="bold" text-anchor="middle" fill="#000" stroke="#000" stroke-width="0.4">-</text>
<text x="280.5" y="243.4" font-size="7.6" font-weight="bold" text-anchor="middle" fill="#000" stroke="#000" stroke-width="0.4">-</text>
<text x="301.7" y="243.4" font-size="7.6" font-weight="bold" text-anchor="middle" fill="#000" stroke="#000" stroke-width="0.4">1.26</text>
<text x="327" y="243.4" font-size="7.6" font-weight="bold" text-anchor="middle" fill="#000" stroke="#000" stroke-width="0.4">2.51</text>
<text x="170.6" y="226.7" font-size="7.1" font-weight="bold" text-anchor="start" fill="#000" stroke="#000" stroke-width="0.4">HMGB1(nM)</text>
<text x="170.6" y="235.4" font-size="7.1" font-weight="bold" text-anchor="start" fill="#000" stroke="#000" stroke-width="0.4">PolyP</text>
<text x="195.9" y="235.4" font-size="7.1" font-weight="bold" text-anchor="start" fill="#000" stroke="#000" stroke-width="0.4">(µM)</text>
<text x="170.6" y="243.6" font-size="7.1" font-weight="bold" text-anchor="start" fill="#000" stroke="#000" stroke-width="0.4">sRAGE</text>
<text x="198.7" y="243.6" font-size="7.1" font-weight="bold" text-anchor="start" fill="#000" stroke="#000" stroke-width="0.4">(µM)</text>
<circle cx="296.9" cy="120.4" r="1.6" fill="#000"/>
<circle cx="302" cy="120.4" r="1.6" fill="#000"/>
<circle cx="307.1" cy="120.4" r="1.6" fill="#000"/>
<line x1="274.8" y1="127.5" x2="287.3" y2="127.5" stroke="#333" stroke-width="1"/>
<polyline points="282.5,127.5 282.5,124.5 326.5,124.5 326.5,127.5" fill="none" stroke="#111" stroke-width="1"/>
<line x1="319.3" y1="127.5" x2="332.7" y2="127.5" stroke="#333" stroke-width="1"/>
<circle cx="292.3" cy="126.2" r="1.3" fill="#000"/>
<line x1="274.1" y1="133.5" x2="286.7" y2="133.5" stroke="#333" stroke-width="1"/>
<polyline points="279.5,133.5 279.5,129.5 304.5,129.5 304.5,133.5" fill="none" stroke="#111" stroke-width="1"/>
<line x1="297.3" y1="133.5" x2="310" y2="133.5" stroke="#333" stroke-width="1"/>
<text x="355.8" y="122.6" font-size="12" font-weight="bold" text-anchor="start" fill="#000" stroke="#000" stroke-width="0.4">G</text>
<line x1="398.5" y1="124.4" x2="398.5" y2="216.2" stroke="#000" stroke-width="1.1"/>
<line x1="398.5" y1="216.5" x2="402.1" y2="216.5" stroke="#000" stroke-width="1.1"/>
<line x1="398.5" y1="203.5" x2="402.1" y2="203.5" stroke="#000" stroke-width="1.1"/>
<line x1="398.5" y1="190.5" x2="402.1" y2="190.5" stroke="#000" stroke-width="1.1"/>
<line x1="398.5" y1="176.5" x2="402.1" y2="176.5" stroke="#000" stroke-width="1.1"/>
<line x1="398.5" y1="163.5" x2="402.1" y2="163.5" stroke="#000" stroke-width="1.1"/>
<line x1="398.5" y1="150.5" x2="402.1" y2="150.5" stroke="#000" stroke-width="1.1"/>
<line x1="398.5" y1="137.5" x2="402.1" y2="137.5" stroke="#000" stroke-width="1.1"/>
<line x1="398.5" y1="124.5" x2="402.1" y2="124.5" stroke="#000" stroke-width="1.1"/>
<text x="393.4" y="219.26" font-size="8.5" font-weight="bold" text-anchor="end" fill="#000" stroke="#000" stroke-width="0.4">0</text>
<text x="393.4" y="193.06" font-size="8.5" font-weight="bold" text-anchor="end" fill="#000" stroke="#000" stroke-width="0.4">0.2</text>
<text x="393.4" y="166.86" font-size="8.5" font-weight="bold" text-anchor="end" fill="#000" stroke="#000" stroke-width="0.4">0.4</text>
<text x="393.4" y="140.66" font-size="8.5" font-weight="bold" text-anchor="end" fill="#000" stroke="#000" stroke-width="0.4">0.6</text>
<line x1="398.5" y1="216.5" x2="508" y2="216.5" stroke="#000" stroke-width="1.1"/>
<rect x="400.4" y="203.3" width="4.6" height="12.9" fill="#fff" stroke="#000" stroke-width="0.8"/>
<rect x="406.5" y="204" width="4.6" height="12.2" fill="#8a8a8a" stroke="#000" stroke-width="0.8"/>
<rect x="412.2" y="204.2" width="5.4" height="12" fill="#000"/>
<rect x="422.5" y="204.9" width="4.6" height="11.3" fill="#fff" stroke="#000" stroke-width="0.8"/>
<rect x="428.6" y="204.9" width="4.6" height="11.3" fill="#8a8a8a" stroke="#000" stroke-width="0.8"/>
<rect x="434.3" y="204.5" width="5.4" height="11.7" fill="#000"/>
<rect x="444.6" y="204.9" width="4.6" height="11.3" fill="#fff" stroke="#000" stroke-width="0.8"/>
<rect x="450.7" y="204.9" width="4.6" height="11.3" fill="#8a8a8a" stroke="#000" stroke-width="0.8"/>
<rect x="456.4" y="204.5" width="5.4" height="11.7" fill="#000"/>
<line x1="469.5" y1="135.5" x2="469.5" y2="140.2" stroke="#000" stroke-width="0.8"/>
<line x1="467.7" y1="135.5" x2="470.3" y2="135.5" stroke="#000" stroke-width="0.8"/>
<rect x="466.7" y="140.6" width="4.6" height="75.6" fill="#fff" stroke="#000" stroke-width="0.8"/>
<line x1="475.5" y1="140.9" x2="475.5" y2="146.9" stroke="#000" stroke-width="0.8"/>
<line x1="473.8" y1="140.5" x2="476.4" y2="140.5" stroke="#000" stroke-width="0.8"/>
<rect x="472.8" y="147.3" width="4.6" height="68.9" fill="#8a8a8a" stroke="#000" stroke-width="0.8"/>
<line x1="481.5" y1="132.8" x2="481.5" y2="140.2" stroke="#000" stroke-width="0.8"/>
<line x1="479.9" y1="132.5" x2="482.5" y2="132.5" stroke="#000" stroke-width="0.8"/>
<rect x="478.5" y="140.2" width="5.4" height="76" fill="#000"/>
<rect x="488.8" y="197.6" width="4.6" height="18.6" fill="#fff" stroke="#000" stroke-width="0.8"/>
<rect x="494.9" y="203.7" width="4.6" height="12.5" fill="#8a8a8a" stroke="#000" stroke-width="0.8"/>
<rect x="500.6" y="202.1" width="5.4" height="14.1" fill="#000"/>
<line x1="420.5" y1="212.7" x2="420.5" y2="216.2" stroke="#000" stroke-width="0.9"/>
<line x1="442.5" y1="212.7" x2="442.5" y2="216.2" stroke="#000" stroke-width="0.9"/>
<line x1="464.5" y1="212.7" x2="464.5" y2="216.2" stroke="#000" stroke-width="0.9"/>
<line x1="486.5" y1="212.7" x2="486.5" y2="216.2" stroke="#000" stroke-width="0.9"/>
<line x1="508.5" y1="212.7" x2="508.5" y2="216.2" stroke="#000" stroke-width="0.9"/>
<text x="408.8" y="225.4" font-size="7.6" font-weight="bold" text-anchor="middle" fill="#000" stroke="#000" stroke-width="0.4">-</text>
<text x="433.7" y="225.4" font-size="7.6" font-weight="bold" text-anchor="middle" fill="#000" stroke="#000" stroke-width="0.4">440</text>
<text x="456.9" y="225.4" font-size="7.6" font-weight="bold" text-anchor="middle" fill="#000" stroke="#000" stroke-width="0.4">-</text>
<text x="477.7" y="225.4" font-size="7.6" font-weight="bold" text-anchor="middle" fill="#000" stroke="#000" stroke-width="0.4">440</text>
<text x="500" y="225.4" font-size="7.6" font-weight="bold" text-anchor="middle" fill="#000" stroke="#000" stroke-width="0.4">440</text>
<text x="404.2" y="234" font-size="7.6" font-weight="bold" text-anchor="middle" fill="#000" stroke="#000" stroke-width="0.4">-</text>
<text x="430.5" y="234" font-size="7.6" font-weight="bold" text-anchor="middle" fill="#000" stroke="#000" stroke-width="0.4">-</text>
<text x="452.4" y="234" font-size="7.6" font-weight="bold" text-anchor="middle" fill="#000" stroke="#000" stroke-width="0.4">2.5</text>
<text x="477.3" y="234" font-size="7.6" font-weight="bold" text-anchor="middle" fill="#000" stroke="#000" stroke-width="0.4">2.5</text>
<text x="499.4" y="234" font-size="7.6" font-weight="bold" text-anchor="middle" fill="#000" stroke="#000" stroke-width="0.4">2.5</text>
<text x="404" y="243.3" font-size="7.6" font-weight="bold" text-anchor="middle" fill="#000" stroke="#000" stroke-width="0.4">-</text>
<text x="430" y="243.3" font-size="7.6" font-weight="bold" text-anchor="middle" fill="#000" stroke="#000" stroke-width="0.4">-</text>
<text x="451.3" y="243.3" font-size="7.6" font-weight="bold" text-anchor="middle" fill="#000" stroke="#000" stroke-width="0.4">-</text>
<text x="474.7" y="243.3" font-size="7.6" font-weight="bold" text-anchor="middle" fill="#000" stroke="#000" stroke-width="0.4">-</text>
<text x="496.7" y="243.3" font-size="7.6" font-weight="bold" text-anchor="middle" fill="#000" stroke="#000" stroke-width="0.4">3</text>
<text x="357.6" y="225.8" font-size="7" font-weight="bold" text-anchor="start" fill="#000" stroke="#000" stroke-width="0.4">Histone 4</text>
<text x="390.3" y="225.8" font-size="7" font-weight="normal" text-anchor="start" fill="#000" stroke="#000" stroke-width="0.35">(nM)</text>
<text x="357.6" y="234.4" font-size="7" font-weight="bold" text-anchor="start" fill="#000" stroke="#000" stroke-width="0.4">PolyP</text>
<text x="381.9" y="234.4" font-size="7" font-weight="normal" text-anchor="start" fill="#000" stroke="#000" stroke-width="0.35">(µM)</text>
<text x="357.6" y="242.9" font-size="7" font-weight="bold" text-anchor="start" fill="#000" stroke="#000" stroke-width="0.4">sRAGE</text>
<text x="384.5" y="242.9" font-size="7" font-weight="normal" text-anchor="start" fill="#000" stroke="#000" stroke-width="0.35">(µM)</text>
<circle cx="486" cy="123.5" r="1.7" fill="#000"/>
<circle cx="491.4" cy="123.5" r="1.7" fill="#000"/>
<line x1="469.5" y1="132.5" x2="482.3" y2="132.5" stroke="#333" stroke-width="1"/>
<polyline points="476.5,132.5 476.5,127.5 500.5,127.5 500.5,131.5" fill="none" stroke="#111" stroke-width="1"/>
<line x1="493" y1="132.5" x2="506.5" y2="132.5" stroke="#333" stroke-width="1"/>
<text x="19.4" y="263.6" font-size="12" font-weight="bold" text-anchor="start" fill="#000" stroke="#000" stroke-width="0.4">H</text>
<text x="32.5" y="339" font-size="7.2" font-weight="bold" text-anchor="start" fill="#000" stroke="#000" stroke-width="0.4" transform="rotate(-90 32.5 339)" textLength="63" lengthAdjust="spacingAndGlyphs">Caspase-8 activity</text>
<line x1="51.5" y1="261" x2="51.5" y2="347.2" stroke="#000" stroke-width="1.1"/>
<line x1="51.1" y1="347.5" x2="54.7" y2="347.5" stroke="#000" stroke-width="1.1"/>
<line x1="51.1" y1="341.5" x2="54.7" y2="341.5" stroke="#000" stroke-width="1.1"/>
<line x1="51.1" y1="335.5" x2="54.7" y2="335.5" stroke="#000" stroke-width="1.1"/>
<line x1="51.1" y1="329.5" x2="54.7" y2="329.5" stroke="#000" stroke-width="1.1"/>
<line x1="51.1" y1="324.5" x2="54.7" y2="324.5" stroke="#000" stroke-width="1.1"/>
<line x1="51.1" y1="318.5" x2="54.7" y2="318.5" stroke="#000" stroke-width="1.1"/>
<line x1="51.1" y1="312.5" x2="54.7" y2="312.5" stroke="#000" stroke-width="1.1"/>
<line x1="51.1" y1="306.5" x2="54.7" y2="306.5" stroke="#000" stroke-width="1.1"/>
<line x1="51.1" y1="301.5" x2="54.7" y2="301.5" stroke="#000" stroke-width="1.1"/>
<line x1="51.1" y1="295.5" x2="54.7" y2="295.5" stroke="#000" stroke-width="1.1"/>
<line x1="51.1" y1="289.5" x2="54.7" y2="289.5" stroke="#000" stroke-width="1.1"/>
<line x1="51.1" y1="283.5" x2="54.7" y2="283.5" stroke="#000" stroke-width="1.1"/>
<line x1="51.1" y1="278.5" x2="54.7" y2="278.5" stroke="#000" stroke-width="1.1"/>
<line x1="51.1" y1="272.5" x2="54.7" y2="272.5" stroke="#000" stroke-width="1.1"/>
<line x1="51.1" y1="266.5" x2="54.7" y2="266.5" stroke="#000" stroke-width="1.1"/>
<line x1="51.1" y1="260.5" x2="54.7" y2="260.5" stroke="#000" stroke-width="1.1"/>
<text x="45.9" y="349.94" font-size="7.6" font-weight="bold" text-anchor="end" fill="#000" stroke="#000" stroke-width="0.4">0</text>
<text x="45.9" y="338.44" font-size="7.6" font-weight="bold" text-anchor="end" fill="#000" stroke="#000" stroke-width="0.4">0.2</text>
<text x="45.9" y="326.94" font-size="7.6" font-weight="bold" text-anchor="end" fill="#000" stroke="#000" stroke-width="0.4">0.4</text>
<text x="45.9" y="315.44" font-size="7.6" font-weight="bold" text-anchor="end" fill="#000" stroke="#000" stroke-width="0.4">0.6</text>
<text x="45.9" y="303.94" font-size="7.6" font-weight="bold" text-anchor="end" fill="#000" stroke="#000" stroke-width="0.4">0.8</text>
<text x="45.9" y="292.44" font-size="7.6" font-weight="bold" text-anchor="end" fill="#000" stroke="#000" stroke-width="0.4">1</text>
<text x="45.9" y="280.94" font-size="7.6" font-weight="bold" text-anchor="end" fill="#000" stroke="#000" stroke-width="0.4">1.2</text>
<text x="45.9" y="269.44" font-size="7.6" font-weight="bold" text-anchor="end" fill="#000" stroke="#000" stroke-width="0.4">1.4</text>
<line x1="51.1" y1="347.5" x2="165" y2="347.5" stroke="#000" stroke-width="1.1"/>
<line x1="60.5" y1="317.6" x2="60.5" y2="320.2" stroke="#000" stroke-width="0.8"/>
<line x1="56.9" y1="317.5" x2="63.7" y2="317.5" stroke="#000" stroke-width="0.8"/>
<rect x="54.9" y="320.2" width="11.2" height="27" fill="#808080" stroke="#000" stroke-width="0.7"/>
<line x1="79.5" y1="317.1" x2="79.5" y2="320" stroke="#000" stroke-width="0.8"/>
<line x1="75.65" y1="317.5" x2="82.45" y2="317.5" stroke="#000" stroke-width="0.8"/>
<rect x="73.65" y="320" width="11.2" height="27.2" fill="#808080" stroke="#000" stroke-width="0.7"/>
<line x1="97.5" y1="266.3" x2="97.5" y2="273.25" stroke="#000" stroke-width="0.8"/>
<line x1="94.4" y1="266.5" x2="101.2" y2="266.5" stroke="#000" stroke-width="0.8"/>
<rect x="92.4" y="273.25" width="11.2" height="73.95" fill="#808080" stroke="#000" stroke-width="0.7"/>
<line x1="117.5" y1="317.3" x2="117.5" y2="320" stroke="#000" stroke-width="0.8"/>
<line x1="113.65" y1="317.5" x2="120.45" y2="317.5" stroke="#000" stroke-width="0.8"/>
<rect x="111.65" y="320" width="11.2" height="27.2" fill="#808080" stroke="#000" stroke-width="0.7"/>
<line x1="135.5" y1="270.9" x2="135.5" y2="277.5" stroke="#000" stroke-width="0.8"/>
<line x1="132.4" y1="270.5" x2="139.2" y2="270.5" stroke="#000" stroke-width="0.8"/>
<rect x="130.4" y="277.5" width="11.2" height="69.7" fill="#808080" stroke="#000" stroke-width="0.7"/>
<line x1="155.5" y1="303.4" x2="155.5" y2="307" stroke="#000" stroke-width="0.8"/>
<line x1="151.65" y1="303.5" x2="158.45" y2="303.5" stroke="#000" stroke-width="0.8"/>
<rect x="149.65" y="307" width="11.2" height="40.2" fill="#808080" stroke="#000" stroke-width="0.7"/>
<line x1="69.5" y1="343.7" x2="69.5" y2="347.2" stroke="#000" stroke-width="0.9"/>
<line x1="88.5" y1="343.7" x2="88.5" y2="347.2" stroke="#000" stroke-width="0.9"/>
<line x1="107.5" y1="343.7" x2="107.5" y2="347.2" stroke="#000" stroke-width="0.9"/>
<line x1="126.5" y1="343.7" x2="126.5" y2="347.2" stroke="#000" stroke-width="0.9"/>
<line x1="145.5" y1="343.7" x2="145.5" y2="347.2" stroke="#000" stroke-width="0.9"/>
<line x1="164.5" y1="343.7" x2="164.5" y2="347.2" stroke="#000" stroke-width="0.9"/>
<text x="58" y="349.5" font-size="6.45" font-weight="bold" text-anchor="start" fill="#000" stroke="#000" stroke-width="0.4" transform="rotate(90 58 349.5)">(-)Control</text>
<text x="76.75" y="349.5" font-size="6.45" font-weight="bold" text-anchor="start" fill="#000" stroke="#000" stroke-width="0.4" transform="rotate(90 76.75 349.5)">sRAGE</text>
<text x="95.5" y="349.5" font-size="6.45" font-weight="bold" text-anchor="start" fill="#000" stroke="#000" stroke-width="0.4" transform="rotate(90 95.5 349.5)">HMGB1+PolyP</text>
<text x="114.75" y="349.5" font-size="6.45" font-weight="bold" text-anchor="start" fill="#000" stroke="#000" stroke-width="0.4" transform="rotate(90 114.75 349.5)">HMGB1+PolyP+sRAGE</text>
<text x="133.5" y="349.5" font-size="6.45" font-weight="bold" text-anchor="start" fill="#000" stroke="#000" stroke-width="0.4" transform="rotate(90 133.5 349.5)">H4+PolyP</text>
<text x="152.75" y="349.5" font-size="6.45" font-weight="bold" text-anchor="start" fill="#000" stroke="#000" stroke-width="0.4" transform="rotate(90 152.75 349.5)">H4+PolyP+sRAGE</text>
<polyline points="99.5,262.5 99.5,259.5 116.5,259.5 116.5,262.5" fill="none" stroke="#111" stroke-width="1"/>
<circle cx="105.8" cy="256.5" r="1.7" fill="#000"/>
<circle cx="110.5" cy="256.5" r="1.7" fill="#000"/>
<polyline points="137.5,267.5 137.5,264.5 155.5,264.5 155.5,267.5" fill="none" stroke="#111" stroke-width="1"/>
<circle cx="142.8" cy="261.5" r="1.7" fill="#000"/>
<circle cx="148.2" cy="261.5" r="1.7" fill="#000"/>
<text x="204.6" y="264.4" font-size="13" font-weight="bold" text-anchor="start" fill="#000" stroke="#000" stroke-width="0.4">I</text>
<rect x="241" y="301.2" width="123.5" height="46.2" fill="#838383"/>
<line x1="241" y1="301.5" x2="364.5" y2="301.5" stroke="#6e6e6e" stroke-width="1"/>
<text x="213.7" y="312.7" font-size="9.4" font-weight="normal" text-anchor="start" fill="#000" stroke="#000" stroke-width="0.2" textLength="23.6" lengthAdjust="spacingAndGlyphs">P-p65</text>
<text x="218.6" y="326.4" font-size="9.4" font-weight="normal" text-anchor="start" fill="#000" stroke="#000" stroke-width="0.2" textLength="15.4" lengthAdjust="spacingAndGlyphs">p65</text>
<text x="206.5" y="346.1" font-size="8.2" font-weight="bold" text-anchor="start" fill="#000" stroke="#000" stroke-width="0.4" textLength="26.3" lengthAdjust="spacingAndGlyphs">β-actin</text>
<rect x="251.8" y="309.9" width="4.6" height="1.5" rx="0.7" fill="#222" opacity="0.8"/>
<rect x="259.2" y="310.0" width="5" height="1.4" rx="0.7" fill="#333" opacity="0.6"/>
<rect x="270.4" y="308.95" width="12" height="1.9" rx="0.95" fill="#111" opacity="0.95"/>
<rect x="288.4" y="308.95" width="13" height="1.9" rx="0.95" fill="#111" opacity="0.95"/>
<rect x="307.1" y="308.95" width="13" height="1.9" rx="0.95" fill="#111" opacity="0.95"/>
<rect x="324.9" y="308.7" width="15" height="2.4" rx="1.2" fill="#111" opacity="1.0"/>
<rect x="344.1" y="308.85" width="14" height="2.1" rx="1.05" fill="#111" opacity="1.0"/>
<rect x="249.2" y="321.7" width="16.4" height="2.6" rx="1.3" fill="#0a0a0a"/>
<rect x="249.2" y="338.6" width="16.4" height="3.8" rx="1.9" fill="#050505"/>
<rect x="268.2" y="322.1" width="16.4" height="2.6" rx="1.3" fill="#0a0a0a"/>
<rect x="268.2" y="338.6" width="16.4" height="3.8" rx="1.9" fill="#050505"/>
<rect x="286.7" y="321.9" width="16.4" height="2.6" rx="1.3" fill="#0a0a0a"/>
<rect x="286.7" y="338.6" width="16.4" height="3.8" rx="1.9" fill="#050505"/>
<rect x="305.4" y="321.5" width="16.4" height="2.6" rx="1.3" fill="#0a0a0a"/>
<rect x="305.4" y="338.6" width="16.4" height="3.8" rx="1.9" fill="#050505"/>
<rect x="324.2" y="320.7" width="16.4" height="2.6" rx="1.3" fill="#0a0a0a"/>
<rect x="324.2" y="338.6" width="16.4" height="3.8" rx="1.9" fill="#050505"/>
<rect x="342.9" y="320" width="16.4" height="2.6" rx="1.3" fill="#0a0a0a"/>
<rect x="342.9" y="338.6" width="16.4" height="3.8" rx="1.9" fill="#050505"/>
<text x="256.4" y="350.4" font-size="7.2" font-weight="bold" text-anchor="start" fill="#000" stroke="#000" stroke-width="0.4" transform="rotate(90 256.4 350.4)">(-)Control</text>
<text x="273.6" y="350.4" font-size="7.2" font-weight="bold" text-anchor="start" fill="#000" stroke="#000" stroke-width="0.4" transform="rotate(90 273.6 350.4)">HMGB1(40 nM)</text>
<text x="293.6" y="350.4" font-size="7.2" font-weight="bold" text-anchor="start" fill="#000" stroke="#000" stroke-width="0.4" transform="rotate(90 293.6 350.4)">H4 (3.5 µM)</text>
<text x="312.4" y="350.4" font-size="7.2" font-weight="bold" text-anchor="start" fill="#000" stroke="#000" stroke-width="0.4" transform="rotate(90 312.4 350.4)">PolyP (50 µM)</text>
<text x="330.6" y="350.4" font-size="7.2" font-weight="bold" text-anchor="start" fill="#000" stroke="#000" stroke-width="0.4" transform="rotate(90 330.6 350.4)">HMGB1+PolyP</text>
<text x="349.8" y="350.4" font-size="7.2" font-weight="bold" text-anchor="start" fill="#000" stroke="#000" stroke-width="0.4" transform="rotate(90 349.8 350.4)">H4+PolyP</text>
<text x="377.6" y="263.6" font-size="12" font-weight="bold" text-anchor="start" fill="#000" stroke="#000" stroke-width="0.4">J</text>
<text x="384.6" y="355.6" font-size="6.5" font-weight="bold" text-anchor="start" fill="#000" stroke="#000" stroke-width="0.4" transform="rotate(-90 384.6 355.6)" textLength="79.5" lengthAdjust="spacingAndGlyphs">Densitometry (NFKB-level)</text>
<line x1="407.5" y1="274.9" x2="407.5" y2="353.6" stroke="#000" stroke-width="1.1"/>
<line x1="407.6" y1="353.5" x2="411.2" y2="353.5" stroke="#000" stroke-width="1.1"/>
<line x1="407.6" y1="347.5" x2="411.2" y2="347.5" stroke="#000" stroke-width="1.1"/>
<line x1="407.6" y1="342.5" x2="411.2" y2="342.5" stroke="#000" stroke-width="1.1"/>
<line x1="407.6" y1="336.5" x2="411.2" y2="336.5" stroke="#000" stroke-width="1.1"/>
<line x1="407.6" y1="331.5" x2="411.2" y2="331.5" stroke="#000" stroke-width="1.1"/>
<line x1="407.6" y1="325.5" x2="411.2" y2="325.5" stroke="#000" stroke-width="1.1"/>
<line x1="407.6" y1="319.5" x2="411.2" y2="319.5" stroke="#000" stroke-width="1.1"/>
<line x1="407.6" y1="314.5" x2="411.2" y2="314.5" stroke="#000" stroke-width="1.1"/>
<line x1="407.6" y1="308.5" x2="411.2" y2="308.5" stroke="#000" stroke-width="1.1"/>
<line x1="407.6" y1="302.5" x2="411.2" y2="302.5" stroke="#000" stroke-width="1.1"/>
<line x1="407.6" y1="297.5" x2="411.2" y2="297.5" stroke="#000" stroke-width="1.1"/>
<line x1="407.6" y1="291.5" x2="411.2" y2="291.5" stroke="#000" stroke-width="1.1"/>
<line x1="407.6" y1="286.5" x2="411.2" y2="286.5" stroke="#000" stroke-width="1.1"/>
<line x1="407.6" y1="280.5" x2="411.2" y2="280.5" stroke="#000" stroke-width="1.1"/>
<line x1="407.6" y1="274.5" x2="411.2" y2="274.5" stroke="#000" stroke-width="1.1"/>
<text x="403.3" y="356.34" font-size="7.6" font-weight="bold" text-anchor="end" fill="#000" stroke="#000" stroke-width="0.4">0</text>
<text x="403.3" y="345.09" font-size="7.6" font-weight="bold" text-anchor="end" fill="#000" stroke="#000" stroke-width="0.4">200</text>
<text x="403.3" y="333.84" font-size="7.6" font-weight="bold" text-anchor="end" fill="#000" stroke="#000" stroke-width="0.4">400</text>
<text x="403.3" y="322.59" font-size="7.6" font-weight="bold" text-anchor="end" fill="#000" stroke="#000" stroke-width="0.4">600</text>
<text x="403.3" y="311.34" font-size="7.6" font-weight="bold" text-anchor="end" fill="#000" stroke="#000" stroke-width="0.4">800</text>
<text x="403.3" y="300.09" font-size="7.6" font-weight="bold" text-anchor="end" fill="#000" stroke="#000" stroke-width="0.4">1000</text>
<text x="403.3" y="288.84" font-size="7.6" font-weight="bold" text-anchor="end" fill="#000" stroke="#000" stroke-width="0.4">1200</text>
<text x="403.3" y="277.59" font-size="7.6" font-weight="bold" text-anchor="end" fill="#000" stroke="#000" stroke-width="0.4">1400</text>
<line x1="407.6" y1="353.5" x2="511.4" y2="353.5" stroke="#000" stroke-width="1.1"/>
<line x1="415.5" y1="341" x2="415.5" y2="342" stroke="#000" stroke-width="0.8"/>
<line x1="413.3" y1="341.5" x2="418.5" y2="341.5" stroke="#000" stroke-width="0.8"/>
<rect x="411" y="342" width="10.2" height="11.6" fill="#808080" stroke="#000" stroke-width="0.7"/>
<line x1="433.5" y1="315.3" x2="433.5" y2="318.7" stroke="#000" stroke-width="0.8"/>
<line x1="430.9" y1="315.5" x2="436.1" y2="315.5" stroke="#000" stroke-width="0.8"/>
<rect x="428.6" y="318.7" width="10.2" height="34.9" fill="#808080" stroke="#000" stroke-width="0.7"/>
<line x1="450.5" y1="313" x2="450.5" y2="316.2" stroke="#000" stroke-width="0.8"/>
<line x1="447.9" y1="313.5" x2="453.1" y2="313.5" stroke="#000" stroke-width="0.8"/>
<rect x="445.6" y="316.2" width="10.2" height="37.4" fill="#808080" stroke="#000" stroke-width="0.7"/>
<line x1="467.5" y1="310.3" x2="467.5" y2="314.1" stroke="#000" stroke-width="0.8"/>
<line x1="464.9" y1="310.5" x2="470.1" y2="310.5" stroke="#000" stroke-width="0.8"/>
<rect x="462.6" y="314.1" width="10.2" height="39.5" fill="#808080" stroke="#000" stroke-width="0.7"/>
<line x1="484.5" y1="279.7" x2="484.5" y2="285.8" stroke="#000" stroke-width="0.8"/>
<line x1="482.3" y1="279.5" x2="487.5" y2="279.5" stroke="#000" stroke-width="0.8"/>
<rect x="480" y="285.8" width="10.2" height="67.8" fill="#808080" stroke="#000" stroke-width="0.7"/>
<line x1="501.5" y1="306.4" x2="501.5" y2="310.7" stroke="#000" stroke-width="0.8"/>
<line x1="499.3" y1="306.5" x2="504.5" y2="306.5" stroke="#000" stroke-width="0.8"/>
<rect x="497" y="310.7" width="10.2" height="42.9" fill="#808080" stroke="#000" stroke-width="0.7"/>
<line x1="425.5" y1="350.1" x2="425.5" y2="353.6" stroke="#000" stroke-width="0.9"/>
<line x1="442.5" y1="350.1" x2="442.5" y2="353.6" stroke="#000" stroke-width="0.9"/>
<line x1="459.5" y1="350.1" x2="459.5" y2="353.6" stroke="#000" stroke-width="0.9"/>
<line x1="476.5" y1="350.1" x2="476.5" y2="353.6" stroke="#000" stroke-width="0.9"/>
<line x1="494.5" y1="350.1" x2="494.5" y2="353.6" stroke="#000" stroke-width="0.9"/>
<line x1="511.5" y1="350.1" x2="511.5" y2="353.6" stroke="#000" stroke-width="0.9"/>
<text x="413.6" y="356.4" font-size="7.2" font-weight="bold" text-anchor="start" fill="#000" stroke="#000" stroke-width="0.4" transform="rotate(90 413.6 356.4)">(-)Control</text>
<text x="431.2" y="356.4" font-size="7.2" font-weight="bold" text-anchor="start" fill="#000" stroke="#000" stroke-width="0.4" transform="rotate(90 431.2 356.4)">HMGB1(40 nM)</text>
<text x="446.9" y="356.4" font-size="7.2" font-weight="bold" text-anchor="start" fill="#000" stroke="#000" stroke-width="0.4" transform="rotate(90 446.9 356.4)">H4 (3.5 µM)</text>
<text x="463.5" y="356.4" font-size="7.2" font-weight="bold" text-anchor="start" fill="#000" stroke="#000" stroke-width="0.4" transform="rotate(90 463.5 356.4)">PolyP (50 µM)</text>
<text x="482.7" y="356.4" font-size="7.2" font-weight="bold" text-anchor="start" fill="#000" stroke="#000" stroke-width="0.4" transform="rotate(90 482.7 356.4)">HMGB1+PolyP</text>
<text x="500.2" y="356.4" font-size="7.2" font-weight="bold" text-anchor="start" fill="#000" stroke="#000" stroke-width="0.4" transform="rotate(90 500.2 356.4)">H4+PolyP</text>
<circle cx="450.8" cy="269" r="1.7" fill="#000"/>
<circle cx="456.5" cy="269" r="1.7" fill="#000"/>
<polyline points="417.5,278.5 417.5,275.5 483.5,275.5 483.5,278.5" fill="none" stroke="#111" stroke-width="1"/>
<polyline points="419.5,306.5 419.5,303.5 451.5,303.5 451.5,306.5" fill="none" stroke="#111" stroke-width="1"/>
<circle cx="436.1" cy="299.5" r="1.6" fill="#000"/>
<line x1="425.8" y1="306.5" x2="477.9" y2="306.5" stroke="#444" stroke-width="1"/>
<circle cx="500.2" cy="303.8" r="1.6" fill="#000"/>
</svg>
</body></html>
